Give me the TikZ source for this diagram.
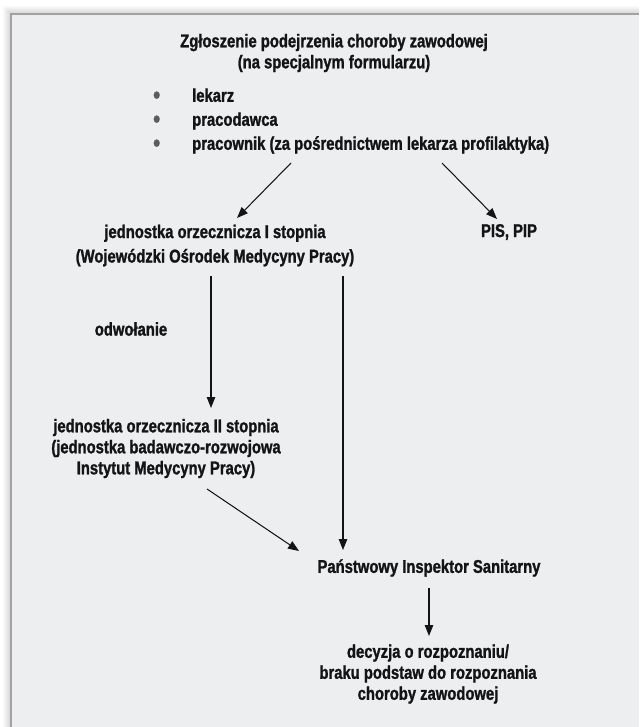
\documentclass[tikz,border=0pt]{standalone}
\usepackage{fontspec}
\setmainfont{Liberation Sans}[FakeStretch=0.80, BoldFeatures={FakeBold=1.3}]
\usetikzlibrary{arrows.meta}
\definecolor{panel}{HTML}{EDEEF0}
\definecolor{edge}{HTML}{A2A2A4}
\definecolor{dotgray}{HTML}{5C5C5E}
\definecolor{ink}{HTML}{141414}
\newcommand{\bul}{\makebox[39pt][l]{\raisebox{-1.6pt}{\textcolor{dotgray}{\fontsize{25}{25}\selectfont •}}}}
\begin{document}
\begin{tikzpicture}[x=1pt,y=-1pt,
  txt/.style={font=\bfseries\fontsize{18.5}{21}\selectfont, align=center, inner sep=0pt, text=ink},
  arr/.style={line width=1.05pt, draw=ink, -{Triangle[length=11pt,width=8.5pt]}}]
\useasboundingbox (0,0) rectangle (639,727);
\fill[white] (0,0) rectangle (639,727);
\foreach \i in {1,...,8}{\fill[black,opacity=0.018] (11-\i,14-\i) rectangle (639,727);}
\fill[panel] (11,14) rectangle (639,727);
\draw[edge, line width=1.3pt] (11,727) -- (11,14) -- (639,14);

\node[txt] (title) at (334,53) {Zgłoszenie podejrzenia choroby zawodowej\\(na specjalnym formularzu)};
\node[txt, align=left, anchor=west, font=\bfseries\fontsize{18.5}{24}\selectfont] (list) at (153,121)
  {\bul lekarz\\ \bul pracodawca\\ \bul pracownik (za pośrednictwem lekarza profilaktyka)};
\node[txt, font=\bfseries\fontsize{18.5}{24.5}\selectfont] (j1) at (215,245.5) {jednostka orzecznicza I stopnia\\(Wojewódzki Ośrodek Medycyny Pracy)};
\node[txt] (pis) at (509,232) {PIS, PIP};
\node[txt] (odw) at (131,329) {odwołanie};
\node[txt] (j2) at (166,448.5) {jednostka orzecznicza II stopnia\\(jednostka badawczo-rozwojowa\\Instytut Medycyny Pracy)};
\node[txt] (psi) at (429,568) {Państwowy Inspektor Sanitarny};
\node[txt] (dec) at (428,674) {decyzja o rozpoznaniu/\\braku podstaw do rozpoznania\\choroby zawodowej};

\coordinate (a1s) at (291,163);
\coordinate (a1e) at (237,218);
\coordinate (a2s) at (442,163);
\coordinate (a2e) at (497,219);
\coordinate (a3s) at (211,276);
\coordinate (a3e) at (211,408);
\coordinate (a4s) at (343,276);
\coordinate (a4e) at (343,550);
\coordinate (a5s) at (207,489);
\coordinate (a5e) at (299,551);
\coordinate (a6s) at (429,588);
\coordinate (a6e) at (429,636);

\draw[arr] (a1s) -- (a1e);
\draw[arr] (a2s) -- (a2e);
\draw[arr] (a3s) -- (a3e);
\draw[arr] (a4s) -- (a4e);
\draw[arr] (a5s) -- (a5e);
\draw[arr] (a6s) -- (a6e);
\end{tikzpicture}
\end{document}
